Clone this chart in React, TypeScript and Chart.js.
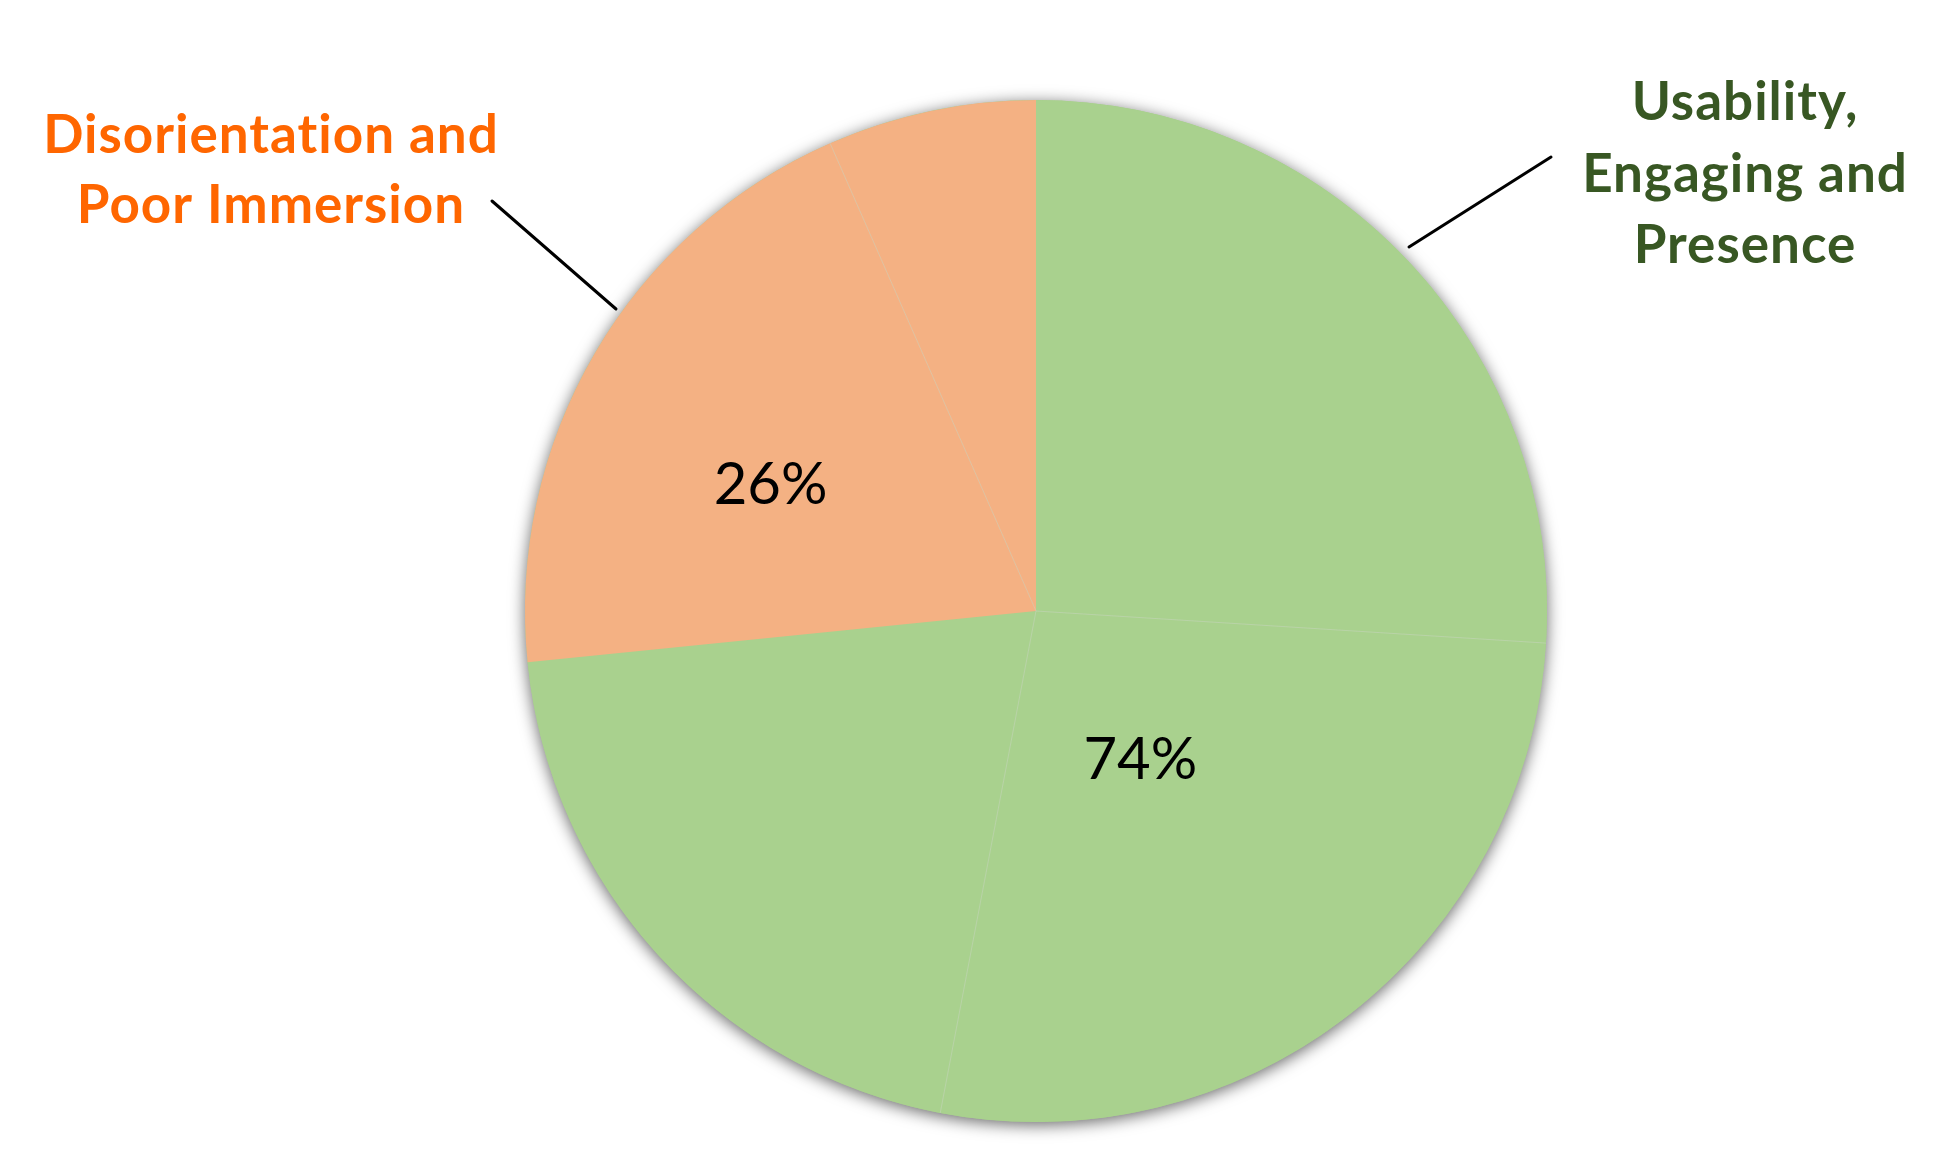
import React, { useEffect, useRef } from "react";
import { Chart, registerables } from "chart.js";

Chart.register(...registerables);

// ---- data ----
const groupNames = ["Usability, Engaging and Presence", "Disorientation and Poor Immersion"];
const groupLabelLines = [
  ["Usability,", "Engaging and", "Presence"],
  ["Disorientation and", "Poor Immersion"],
];
const percentLabels = ["74%", "26%"];
const sliceValues = [26.0, 27.0, 20.4, 20.0, 6.6];
const sliceGroups = [0, 0, 0, 1, 1];

// ---- styling / layout ----
const GROUP_FILL = ["#A9D18E", "#F4B183"];
const GROUP_TEXT = ["#385723", "#FF6600"];
const CALLOUTS = [
  { x: 1745, y: 103, lineH: 71.5, line: [1551, 157, 1409, 247] },
  { x: 271, y: 136, lineH: 70, line: [492, 201, 616, 309] },
];
const PCT_POS = [
  { angle: 145, r: 0.356 },
  { angle: 295.4, r: 0.575 },
];
const FONT_FAMILY = "Lato, 'Open Sans', sans-serif";

const piePlugin = {
  id: "pieDecor",
  beforeDatasetsDraw(chart: any) {
    const arc = chart.getDatasetMeta(0).data[0];
    if (!arc) return;
    const { x, y, outerRadius } = arc.getProps(["x", "y", "outerRadius"], true);
    const ctx = chart.ctx;
    ctx.save();
    ctx.shadowColor = "rgba(0,0,0,0.6)";
    ctx.shadowBlur = 16;
    ctx.shadowOffsetX = 0;
    ctx.shadowOffsetY = 3;
    ctx.beginPath();
    ctx.arc(x, y, outerRadius, 0, Math.PI * 2);
    ctx.fillStyle = GROUP_FILL[0];
    ctx.fill();
    ctx.restore();
  },
  afterDatasetsDraw(chart: any) {
    const meta = chart.getDatasetMeta(0);
    const ctx = chart.ctx;
    ctx.save();
    ctx.strokeStyle = "rgba(215,215,215,0.35)";
    ctx.lineWidth = 1;
    meta.data.forEach((el: any, i: number) => {
      if (i === 0 || sliceGroups[i] !== sliceGroups[i - 1]) return;
      const { x, y, startAngle, outerRadius } = el.getProps(["x", "y", "startAngle", "outerRadius"], true);
      ctx.beginPath();
      ctx.moveTo(x, y);
      ctx.lineTo(x + outerRadius * Math.cos(startAngle), y + outerRadius * Math.sin(startAngle));
      ctx.stroke();
    });
    ctx.restore();
  },
  afterDraw(chart: any) {
    const arc = chart.getDatasetMeta(0).data[0];
    if (!arc) return;
    const { x: cx, y: cy, outerRadius: R } = arc.getProps(["x", "y", "outerRadius"], true);
    const ctx = chart.ctx;
    ctx.save();
    // percentage labels
    ctx.fillStyle = "#000";
    ctx.font = `400 58px ${FONT_FAMILY}`;
    ctx.textAlign = "center";
    ctx.textBaseline = "middle";
    percentLabels.forEach((t, g) => {
      const p = PCT_POS[g];
      const a = (p.angle * Math.PI) / 180;
      ctx.fillText(t, cx + p.r * R * Math.sin(a), cy - p.r * R * Math.cos(a));
    });
    // callouts
    groupLabelLines.forEach((lines, g) => {
      const c = CALLOUTS[g];
      ctx.strokeStyle = "#000";
      ctx.lineWidth = 3;
      ctx.lineCap = "round";
      ctx.beginPath();
      ctx.moveTo(c.line[0], c.line[1]);
      ctx.lineTo(c.line[2], c.line[3]);
      ctx.stroke();
      ctx.fillStyle = GROUP_TEXT[g];
      ctx.font = `700 53px ${FONT_FAMILY}`;
      (ctx as any).letterSpacing = "1px";
      lines.forEach((ln, i) => {
        ctx.fillText(ln, c.x, c.y + i * c.lineH);
      });
      (ctx as any).letterSpacing = "0px";
    });
    ctx.restore();
  },
};

export default function App() {
  const ref = useRef<HTMLCanvasElement | null>(null);
  useEffect(() => {
    if (!ref.current) return;
    const chart = new Chart(ref.current, {
      type: "pie",
      data: {
        labels: sliceGroups.map((g) => groupNames[g]),
        datasets: [
          {
            data: sliceValues,
            backgroundColor: sliceGroups.map((g) => GROUP_FILL[g]),
            borderWidth: 0,
          },
        ],
      },
      options: {
        responsive: false,
        animation: false,
        radius: 511,
        layout: { padding: { left: 134, right: 0, top: 72, bottom: 0 } },
        plugins: {
          legend: { display: false },
          tooltip: { enabled: false },
          title: { display: false },
        },
      } as any,
      plugins: [piePlugin],
    });
    return () => chart.destroy();
  }, []);
  return (
    <div style={{ position: "absolute", left: 0, top: 0, width: 1938, height: 1150, background: "#fff" }}>
      <canvas ref={ref} width={1938} height={1150} style={{ display: "block", width: 1938, height: 1150 }} />
    </div>
  );
}
